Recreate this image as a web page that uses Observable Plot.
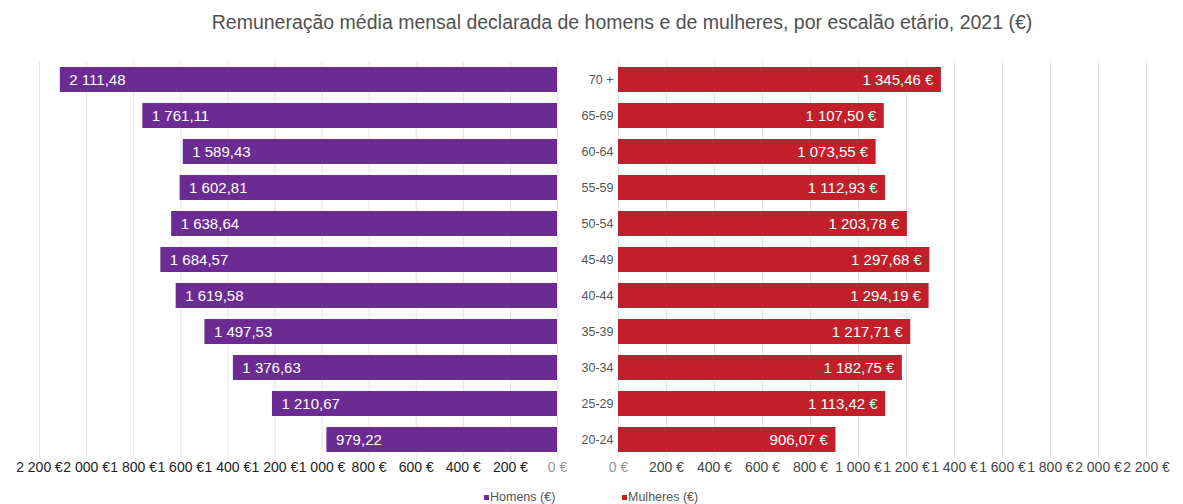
<!DOCTYPE html>
<html>
<head>
<meta charset="utf-8">
<script src="https://cdn.jsdelivr.net/npm/d3@7"></script>
<script src="https://cdn.jsdelivr.net/npm/@observablehq/plot@0.6"></script>
<style>
  html, body { margin: 0; padding: 0; background: #fff; }
  #wrap { position: relative; width: 1183px; height: 504px; font-family: "Liberation Sans", Arial, sans-serif; overflow: hidden; }
  #title { position: absolute; top: 11px; left: 0; width: 1244px; text-align: center; font-size: 19.5px; color: #505050; }
  #left { position: absolute; top: 50px; left: 0; }
  #right { position: absolute; top: 50px; left: 570px; }
  .leg { position: absolute; top: 490px; font-size: 12.5px; color: #555; white-space: nowrap; }
  .sw { display: inline-block; width: 5px; height: 5px; margin-right: 1px; vertical-align: 1px; }
</style>
</head>
<body>
<div id="wrap">
  <div id="title">Remuneração média mensal declarada de homens e de mulheres, por escalão etário, 2021 (€)</div>
  <div id="left"></div>
  <div id="right"></div>
  <div class="leg" style="left:484px"><span class="sw" style="background:#6a2c92"></span>Homens (€)</div>
  <div class="leg" style="left:622px"><span class="sw" style="background:#c21f2b"></span>Mulheres (€)</div>
</div>
<script>
const categories = ["70 +","65-69","60-64","55-59","50-54","45-49","40-44","35-39","30-34","25-29","20-24"];
const homens = [2111.48,1761.11,1589.43,1602.81,1638.64,1684.57,1619.58,1497.53,1376.63,1210.67,979.22];
const mulheres = [1345.46,1107.50,1073.55,1112.93,1203.78,1297.68,1294.19,1217.71,1182.75,1113.42,906.07];
const xTicks = [0,200,400,600,800,1000,1200,1400,1600,1800,2000,2200];

const locale = d3.formatLocale({decimal: ",", thousands: " ", grouping: [3], currency: ["", " €"]});
const fmtVal = locale.format(",.2f");
const fmtTick = v => locale.format(",.0f")(v) + " €";

const dataH = categories.map((c, i) => ({cat: c, v: homens[i]}));
const dataM = categories.map((c, i) => ({cat: c, v: mulheres[i]}));

const H = 435, mTop = 12, mBottom = 27;
const colH = "#6a2c92", colM = "#c21f2b";
const font = "Liberation Sans, Arial, sans-serif";
const yOpts = {domain: categories, paddingInner: 0.3, paddingOuter: 0.15, axis: null};
const shadow = "filter: drop-shadow(1px 2px 1px rgba(0,0,0,0.25))";
const nonZero = xTicks.filter(t => t !== 0);

const left = Plot.plot({
  width: 570, height: H,
  marginLeft: 39, marginRight: 13, marginTop: mTop, marginBottom: mBottom,
  style: {fontFamily: font, background: "transparent"},
  x: {domain: [0, 2200], reverse: true, axis: null},
  y: yOpts,
  marks: [
    Plot.ruleX(xTicks, {stroke: "#e4e4e4", strokeWidth: 1}),
    Plot.barX(dataH, {x: "v", y: "cat", fill: colH, style: shadow}),
    Plot.text(dataH, {x: "v", y: "cat", text: d => fmtVal(d.v), dx: 9, textAnchor: "start", fill: "white", fontSize: 15}),
    Plot.axisX({ticks: nonZero, tickFormat: fmtTick, tickSize: 0, tickPadding: 4, fontSize: 14, color: "#222", anchor: "bottom", label: null}),
    Plot.axisX({ticks: [0], tickFormat: fmtTick, tickSize: 0, tickPadding: 4, fontSize: 14, color: "#999", anchor: "bottom", label: null})
  ]
});
document.getElementById("left").appendChild(left);

const right = Plot.plot({
  width: 613, height: H,
  marginLeft: 48, marginRight: 37, marginTop: mTop, marginBottom: mBottom,
  style: {fontFamily: font, background: "transparent"},
  x: {domain: [0, 2200], axis: null},
  y: yOpts,
  marks: [
    Plot.ruleX(xTicks, {stroke: "#e4e4e4", strokeWidth: 1}),
    Plot.barX(dataM, {x: "v", y: "cat", fill: colM, style: shadow}),
    Plot.text(dataM, {x: "v", y: "cat", text: d => fmtVal(d.v) + " €", dx: -8, textAnchor: "end", fill: "white", fontSize: 15}),
    Plot.axisX({ticks: nonZero, tickFormat: fmtTick, tickSize: 0, tickPadding: 4, fontSize: 14, color: "#444", anchor: "bottom", label: null}),
    Plot.axisX({ticks: [0], tickFormat: fmtTick, tickSize: 0, tickPadding: 4, fontSize: 14, color: "#999", anchor: "bottom", label: null}),
    Plot.axisY({tickSize: 0, tickPadding: 5, fontSize: 12.5, color: "#555", anchor: "left", label: null})
  ]
});
document.getElementById("right").appendChild(right);
</script>
</body>
</html>
